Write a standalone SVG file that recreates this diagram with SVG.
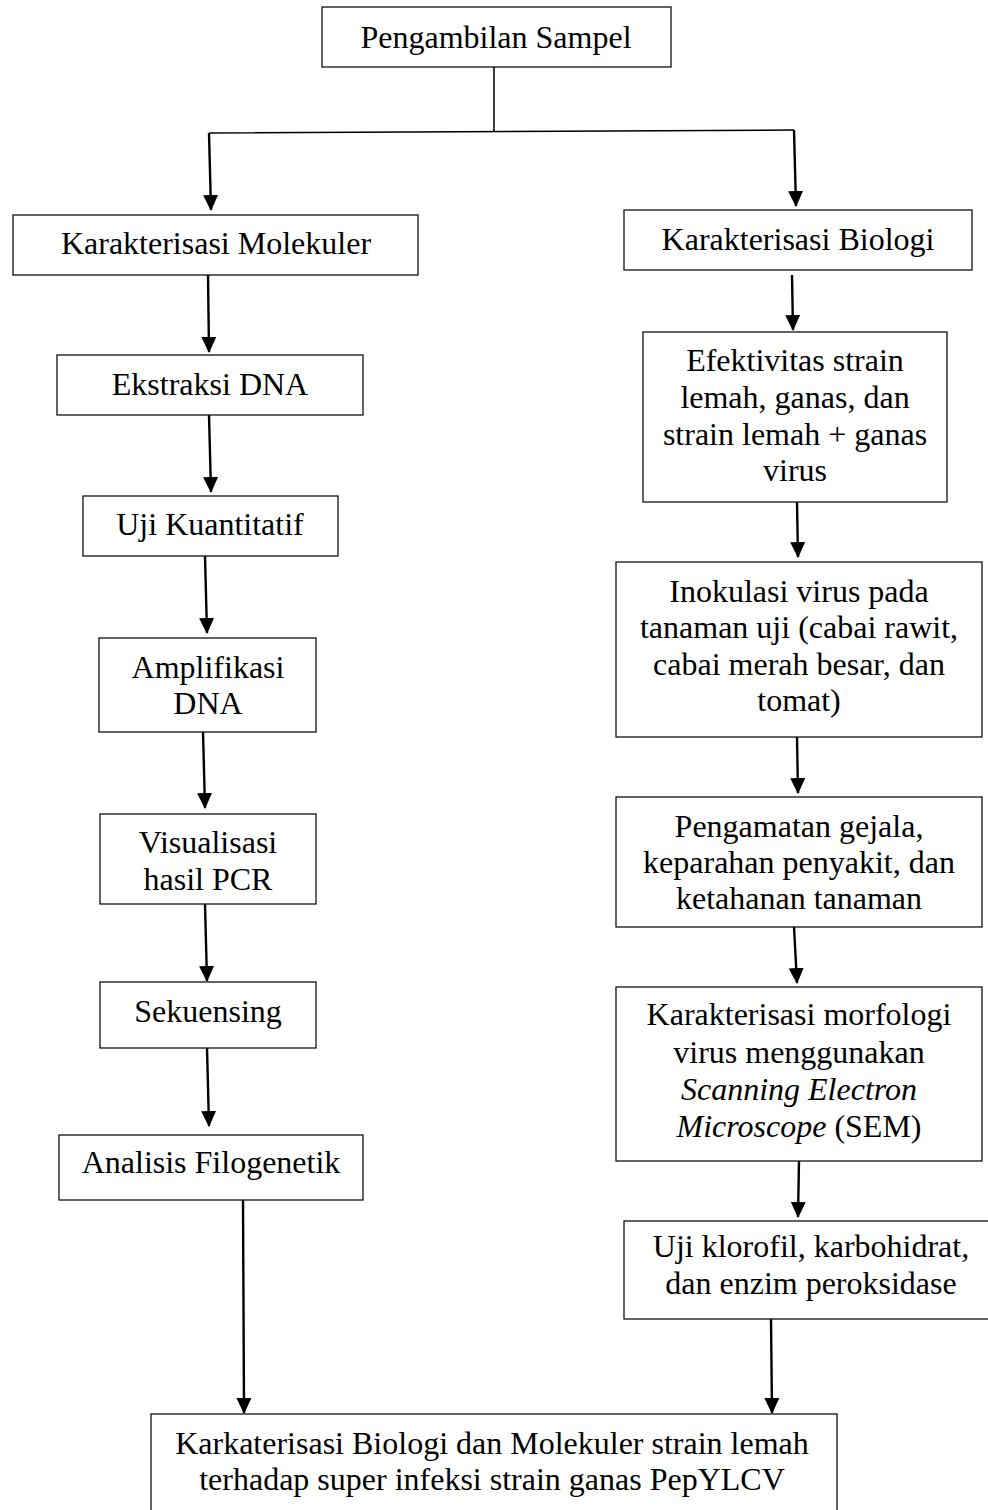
<svg xmlns="http://www.w3.org/2000/svg" width="988" height="1510" viewBox="0 0 988 1510">
<style>
rect.box{fill:#fff;stroke:#111;stroke-width:1.3}
text{font-family:"Liberation Serif","Times New Roman",serif;font-size:32px;fill:#000;text-anchor:middle}
.it{font-style:italic}
.conn{fill:none;stroke:#000;stroke-width:2.4}
.thin{fill:none;stroke:#000;stroke-width:1.5}
</style>
<defs>
<marker id="ah" viewBox="0 0 16 15" markerWidth="16" markerHeight="15" refX="15" refY="7.5" orient="auto" markerUnits="userSpaceOnUse">
<path d="M0,0 L16,7.5 L0,15 Z" fill="#000"/>
</marker>
</defs>
<rect width="988" height="1510" fill="#fff"/>
<g id="connectors">
<path class="thin" d="M494,67 V131 M209,133 L794,130"/>
<path class="conn" marker-end="url(#ah)" d="M209,133 L211,210"/>
<path class="conn" marker-end="url(#ah)" d="M794,130 L796,206"/>
<path class="conn" marker-end="url(#ah)" d="M208,275 L209,352"/>
<path class="conn" marker-end="url(#ah)" d="M209,415 L211,492"/>
<path class="conn" marker-end="url(#ah)" d="M205,556 L207,633"/>
<path class="conn" marker-end="url(#ah)" d="M203,732 L205,808"/>
<path class="conn" marker-end="url(#ah)" d="M205,904 L207,981"/>
<path class="conn" marker-end="url(#ah)" d="M207,1048 L209,1126"/>
<path class="conn" marker-end="url(#ah)" d="M243,1200 L244,1413"/>
<path class="conn" marker-end="url(#ah)" d="M792,275 L793,330"/>
<path class="conn" marker-end="url(#ah)" d="M797,502 L798,557"/>
<path class="conn" marker-end="url(#ah)" d="M797,737 L798,793"/>
<path class="conn" marker-end="url(#ah)" d="M794,927 L797,983"/>
<path class="conn" marker-end="url(#ah)" d="M799,1161 L798,1217"/>
<path class="conn" marker-end="url(#ah)" d="M771,1319 L772,1413"/>
</g>
<g id="n-pengambilan">
<rect class="box" x="322" y="7" width="349" height="60"/>
<text x="496" y="48">Pengambilan Sampel</text>
</g>
<g id="n-molekuler">
<rect class="box" x="13" y="215" width="405" height="60"/>
<text x="216" y="254">Karakterisasi Molekuler</text>
</g>
<g id="n-biologi">
<rect class="box" x="624" y="210" width="348" height="60"/>
<text x="798" y="250">Karakterisasi Biologi</text>
</g>
<g id="n-ekstraksi">
<rect class="box" x="57" y="355" width="306" height="60"/>
<text x="210" y="395">Ekstraksi DNA</text>
</g>
<g id="n-uji-kuantitatif">
<rect class="box" x="83" y="496" width="255" height="60"/>
<text x="210" y="535">Uji Kuantitatif</text>
</g>
<g id="n-amplifikasi">
<rect class="box" x="99" y="638" width="217" height="94"/>
<text x="208" y="678">Amplifikasi</text>
<text x="208" y="714">DNA</text>
</g>
<g id="n-visualisasi">
<rect class="box" x="100" y="814" width="216" height="90"/>
<text x="208" y="853">Visualisasi</text>
<text x="208" y="890">hasil PCR</text>
</g>
<g id="n-sekuensing">
<rect class="box" x="100" y="982" width="216" height="66"/>
<text x="208" y="1022">Sekuensing</text>
</g>
<g id="n-filogenetik">
<rect class="box" x="59" y="1135" width="304" height="65"/>
<text x="211" y="1173">Analisis Filogenetik</text>
</g>
<g id="n-efektivitas">
<rect class="box" x="643" y="332" width="304" height="170"/>
<text x="795" y="371">Efektivitas strain</text>
<text x="795" y="408">lemah, ganas, dan</text>
<text x="795" y="445">strain lemah + ganas</text>
<text x="795" y="481">virus</text>
</g>
<g id="n-inokulasi">
<rect class="box" x="616" y="562" width="366" height="175"/>
<text x="799" y="602">Inokulasi virus pada</text>
<text x="799" y="638">tanaman uji (cabai rawit,</text>
<text x="799" y="675">cabai merah besar, dan</text>
<text x="799" y="711">tomat)</text>
</g>
<g id="n-pengamatan">
<rect class="box" x="616" y="797" width="366" height="130"/>
<text x="799" y="837">Pengamatan gejala,</text>
<text x="799" y="873">keparahan penyakit, dan</text>
<text x="799" y="909">ketahanan tanaman</text>
</g>
<g id="n-morfologi">
<rect class="box" x="616" y="987" width="366" height="174"/>
<text x="799" y="1025">Karakterisasi morfologi</text>
<text x="799" y="1063">virus menggunakan</text>
<text x="799" y="1100" class="it">Scanning Electron</text>
<text x="799" y="1137"><tspan class="it">Microscope</tspan> (SEM)</text>
</g>
<g id="n-klorofil">
<rect class="box" x="624" y="1221" width="374" height="98"/>
<text x="811" y="1257">Uji klorofil, karbohidrat,</text>
<text x="811" y="1294">dan enzim peroksidase</text>
</g>
<g id="n-hasil">
<rect class="box" x="151" y="1414" width="686" height="110"/>
<text x="492" y="1454">Karkaterisasi Biologi dan Molekuler strain lemah</text>
<text x="492" y="1490">terhadap super infeksi strain ganas PepYLCV</text>
</g>
</svg>
